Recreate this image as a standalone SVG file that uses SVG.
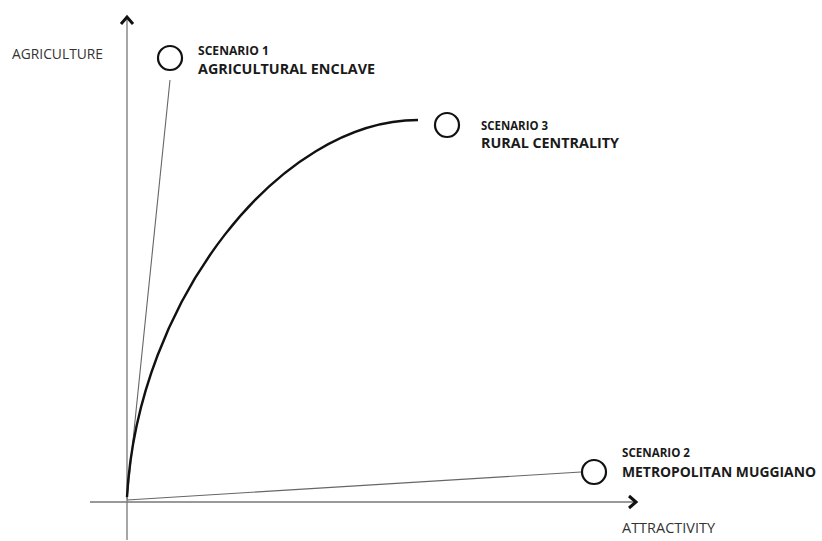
<svg xmlns="http://www.w3.org/2000/svg" width="822" height="541" viewBox="0 0 822 541">
<style>
.axis{stroke:#777;stroke-width:1.3;fill:none}
.thin{stroke:#666;stroke-width:1.1;fill:none}
.curve{stroke:#111;stroke-width:2.4;fill:none}
.node{fill:#fff;stroke:#111;stroke-width:2.2}
.ax{font-family:"Open Sans","Liberation Sans",sans-serif;font-size:15px;fill:#333}
.sm{font-family:"Open Sans","Liberation Sans",sans-serif;font-weight:bold;font-size:11.5px;fill:#1a1a1a}
.lg{font-family:"Open Sans","Liberation Sans",sans-serif;font-weight:bold;font-size:15px;fill:#1a1a1a}
.head{fill:none;stroke:#111;stroke-width:3;stroke-linejoin:miter}
</style>
<rect width="822" height="541" fill="#fff"/>
<g id="axes">
<line class="axis" x1="127" y1="540" x2="127" y2="17"/>
<line class="axis" x1="90" y1="502" x2="636" y2="502"/>
<polyline class="head" points="121,24 127,17 133,24"/>
<polyline class="head" points="629,496 636,502 629,508"/>
<text class="ax" x="12" y="59" textLength="91" lengthAdjust="spacingAndGlyphs">AGRICULTURE</text>
<text class="ax" x="622" y="533" textLength="93" lengthAdjust="spacingAndGlyphs">ATTRACTIVITY</text>
</g>
<g id="connectors">
<line class="thin" x1="127" y1="499" x2="170" y2="80"/>
<line class="thin" x1="127" y1="500" x2="581" y2="472"/>
<path class="curve" d="M127,497 C138,300 280,120 418,120"/>
</g>
<g id="scenario1">
<circle class="node" cx="170" cy="58" r="12"/>
<text class="sm" x="198" y="55" textLength="71" lengthAdjust="spacingAndGlyphs">SCENARIO 1</text>
<text class="lg" x="198" y="74" textLength="177" lengthAdjust="spacingAndGlyphs">AGRICULTURAL ENCLAVE</text>
</g>
<g id="scenario3">
<circle class="node" cx="447" cy="125" r="12"/>
<text class="sm" x="481" y="130" textLength="67" lengthAdjust="spacingAndGlyphs">SCENARIO 3</text>
<text class="lg" x="481" y="148" textLength="138" lengthAdjust="spacingAndGlyphs">RURAL CENTRALITY</text>
</g>
<g id="scenario2">
<circle class="node" cx="594" cy="472" r="12"/>
<text class="sm" x="622" y="457" textLength="68" lengthAdjust="spacingAndGlyphs">SCENARIO 2</text>
<text class="lg" x="622" y="477" style="font-size:14px" textLength="194" lengthAdjust="spacingAndGlyphs">METROPOLITAN MUGGIANO</text>
</g>
</svg>
